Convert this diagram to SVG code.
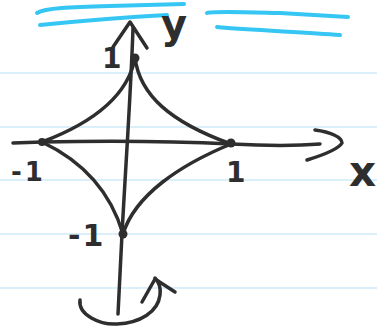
<svg xmlns="http://www.w3.org/2000/svg" width="377" height="329" viewBox="0 0 377 329">
<defs>
<style>
.rule{stroke:#cfeafa;stroke-width:1.5;fill:none}
.blue{stroke:#35c6f4;stroke-width:4;fill:none;stroke-linecap:round}
.ink{stroke:#2e2e2e;stroke-width:3.5;fill:none;stroke-linecap:round;stroke-linejoin:round}
.dot{fill:#2e2e2e}
.lbl{font-family:"DejaVu Sans",sans-serif;fill:#2e2e2e;font-weight:bold}
</style>
</defs>
<rect width="377" height="329" fill="#fff"/>
<g id="paper">
<line class="rule" x1="0" y1="73" x2="377" y2="73"/>
<line class="rule" x1="0" y1="127" x2="377" y2="127"/>
<line class="rule" x1="0" y1="180" x2="377" y2="180"/>
<line class="rule" x1="0" y1="234" x2="377" y2="234"/>
<line class="rule" x1="0" y1="288" x2="377" y2="288"/>
</g>
<g id="title-marks">
<path class="blue" d="M37,13 C45,8 70,7 110,6 L184,4"/>
<path class="blue" d="M40,25 C80,21 130,17 167,15"/>
<path class="blue" d="M207,13 C212,11 240,12 280,13 L348,17"/>
<path class="blue" d="M217,27 C250,30 300,32 340,35"/>
</g>
<g id="connectors">
<g id="y-axis">
<path class="ink" d="M133,28 C131,90 126,160 122,234 L118,314"/>
<path class="ink" d="M113,47 L130,22 L147,48"/>
</g>
<g id="x-axis">
<path class="ink" d="M13,143 L42,142 C90,141 150,140 231,144 C270,146 295,146 320,144"/>
<path class="ink" d="M315,130 C330,132 342,137 342,143 C338,150 320,156 307,160"/>
</g>
<g id="astroid">
<path class="ink" d="M135,58 C140,95 170,122 231,144"/>
<path class="ink" d="M135,58 C128,95 95,122 42,142"/>
<path class="ink" d="M42,142 C80,160 110,190 123,234"/>
<path class="ink" d="M231,144 C180,165 135,195 123,234"/>
</g>
<g id="rotation">
<path class="ink" d="M80,300 C78,315 100,325 117,324 C140,323 158,312 160,295 C161,287 158,281 155,278"/>
<path class="ink" d="M142,302 L155,279 L175,292"/>
</g>
</g>
<g id="point-top"><circle class="dot" cx="135" cy="58" r="4.5"/><text class="lbl" x="102" y="68" font-size="28">1</text></g>
<g id="point-right"><circle class="dot" cx="231" cy="143" r="4.5"/><text class="lbl" x="226" y="182" font-size="28">1</text></g>
<g id="point-left"><circle class="dot" cx="42" cy="142" r="4"/><text class="lbl" x="11" y="181" font-size="26" letter-spacing="3">-1</text></g>
<g id="point-bottom"><circle class="dot" cx="123" cy="234" r="4.5"/><text class="lbl" x="68" y="246" font-size="30" letter-spacing="2">-1</text></g>
<g id="labels">
<text class="lbl" x="161" y="38" font-size="40" font-weight="normal">y</text>
<text class="lbl" x="349" y="186" font-size="42" font-weight="normal">x</text>
</g>
</svg>
